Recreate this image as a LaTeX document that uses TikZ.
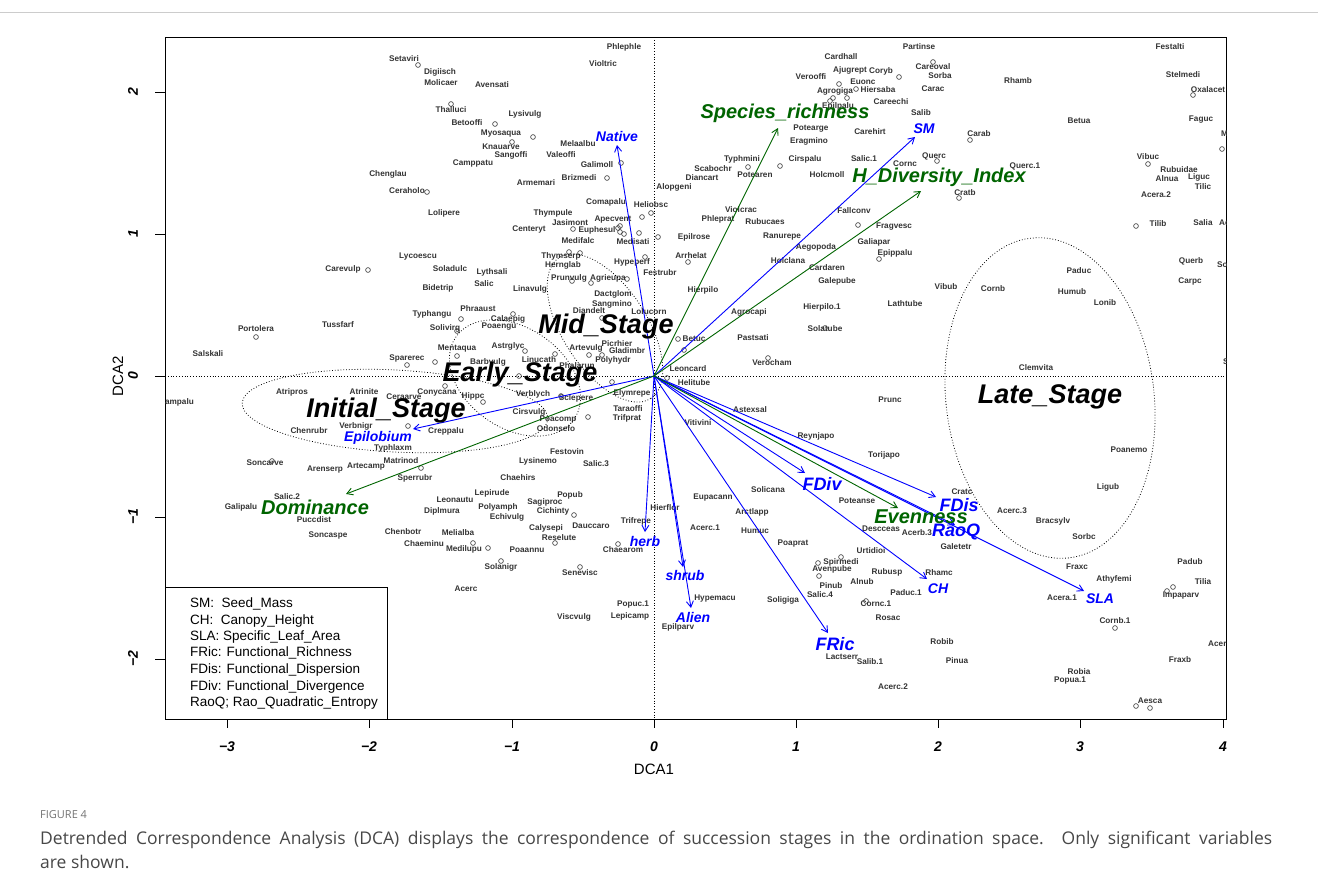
\documentclass[tikz,border=0pt]{standalone}
\usepackage{fontspec}
\setmainfont{Liberation Sans}
\newfontfamily\capfont{Open Sans}
\usepackage{tikz}
\usetikzlibrary{arrows.meta}
\definecolor{rblue}{RGB}{0,0,255}
\definecolor{rgreen}{RGB}{0,100,0}
\tikzset{
	sp/.style={font=\fontsize{8.2}{9}\selectfont\bfseries, text=black!80, inner sep=0pt},
	vec/.style={line width=0.9pt, -{Straight Barb[length=6pt,width=7pt]}},
	stage/.style={font=\fontsize{27}{30}\selectfont\bfseries\itshape, inner sep=0pt},
	bvar/.style={font=\fontsize{14}{16}\selectfont\bfseries\itshape, text=rblue, inner sep=0pt},
	bbig/.style={font=\fontsize{18}{20}\selectfont\bfseries\itshape, text=rblue, inner sep=0pt},
	gvar/.style={font=\fontsize{20}{22}\selectfont\bfseries\itshape, text=rgreen, inner sep=0pt},
	tick/.style={font=\fontsize{14}{16}\selectfont\bfseries\itshape, inner sep=0pt},
	stagering/.style={dotted, line width=0.8pt}
}
\begin{document}
\begin{tikzpicture}[x=1pt,y=-1pt]
	\useasboundingbox (0,0) rectangle (1318,886);
	\draw[black!20] (0,12) -- (1318,12);

	% frame, axes and ticks
	\draw[line width=0.9pt] (165,37) rectangle (1226,719);
	\draw[dotted, line width=0.8pt] (165,376) -- (1226,376);
	\draw[dotted, line width=0.8pt] (654,37) -- (654,719);
	\foreach \x/\t [count=\i] in {227/−3,369/−2,512/−1,654/0,796/1,938/2,1080/3,1223/4}{
		\draw[line width=0.9pt] (\x,719) -- (\x,728);
		\node[tick] (xt\i) at (\x,747) {\t};
	}
	\foreach \y/\t [count=\i] in {92/2,234/1,376/0,517/−1,659/−2}{
		\draw[line width=0.9pt] (165,\y) -- (155,\y);
		\node[tick, rotate=90] (yt\i) at (133,\y) {\t};
	}
	\node[font=\fontsize{15}{17}\selectfont] (xlab) at (654,769) {DCA1};
	\node[font=\fontsize{15}{17}\selectfont, rotate=90] (ylab) at (118,376) {DCA2};

	\begin{scope}
	\clip (165,37) rectangle (1226,719);
	% sites
	\foreach \x/\y in {418/65,451/104,495/124,533/137,512/142,621/163,607/178,427/192,368/270,
		651/213,642/217,620/226,618/228,620/232,624/234,639/233,573/229,658/237,569/252,580/253,
		645/257,688/262,572/281,591/283,627/279,933/62,899/77,839/84,833/98,830/101,847/98,856/89,
		748/167,780/166,937/161,959/198,970/140,858/225,879/259,1193/95,1222/149,1148/164,1136/226,
		825/328,768/358,841/557,818/563,819/576,866/601,1167/591,1173/587,1115/628,1136/706,1150/708,
		473/543,488/548,555/543,618/544,501/561,580/567,461/319,513/314,457/331,457/356,435/362,
		525/351,555/354,589/355,602/355,602/318,678/339,684/350,667/378,612/382,519/376,445/386,
		483/402,561/396,588/417,574/515,256/337,407/365,408/426,272/461,421/468}
		\draw[black!80, line width=0.6pt] (\x,\y) circle[radius=2.4pt];

	% species, upper left
	\foreach \x/\y/\t [count=\i] in {404/59/Setaviri,440/72/Digiisch,441/83/Molicaer,492/85/Avensati,
		624/47/Phlephle,603/64/Violtric,451/110/Thalluci,525/114/Lysivulg,467/123/Betooffi,
		501/134/Myosaqua,501/147/Knauarve,511/155/Sangoffi,473/163/Camppatu,578/144/Melaalbu,
		561/155/Valeoffi,597/165/Galimoll,579/178/Brizmedi,536/183/Armemari,388/174/Chenglau,
		407/191/Ceraholo,444/213/Lolipere,418/257/Lycoescu,343/269/Carevulp,438/288/Bidetrip,
		450/269/Soladulc,492/272/Lythsali,484/284/Salic,530/289/Linavulg,606/202/Comapalu,
		651/205/Heliobsc,674/187/Alopgeni,553/213/Thympule,613/220/Apecvent,570/223/Jasimont,
		597/230/Euphesul,529/229/Centeryt,578/241/Medifalc,633/242/Medisati,694/237/Epilrose,
		561/256/Thymserp,563/265/Hernglab,632/262/Hypeperf,660/273/Festrubr,691/256/Arrhelat,
		569/278/Prunvulg,608/278/Agrieupa}
		\node[sp] (a\i) at (\x,\y) {\t};

	% species, upper right
	\foreach \x/\y/\t [count=\i] in {841/57/Cardhall,919/47/Partinse,1170/47/Festalti,811/77/Verooffi,
		850/70/Ajugrept,881/71/Coryb,933/67/Careoval,940/76/Sorba,863/82/Euonc,835/91/Agrogiga,
		878/90/Hiersaba,933/89/Carac,838/106/Epilpalu,891/102/Careechi,921/113/Salib,
		811/129/Potearge,870/132/Carehirt,809/141/Eragmino,742/159/Typhmini,713/169/Scabochr,
		702/178/Diancart,755/175/Potearen,805/159/Cirspalu,864/159/Salic.1,827/175/Holcmoll,
		905/164/Cornc,934/156/Querc,965/193/Cratb,979/134/Carab,741/210/Violcrac,718/219/Phleprat,
		765/222/Rubucaes,854/211/Fallconv,894/227/Fragvesc,782/237/Ranurepe,816/247/Aegopoda,
		874/242/Galiapar,895/253/Epippalu,788/261/Holclana,827/268/Cardaren,837/281/Galepube,
		946/287/Vibub,1018/81/Rhamb,1079/121/Betua,1183/75/Stelmedi,1208/90/Oxalacet,
		1201/120/Faguc,1025/166/Querc.1,1148/157/Vibuc,1179/170/Rubuidae,1167/179/Alnua,
		1199/177/Liguc,1203/187/Tilic,1156/195/Acera.2,1158/224/Tilib,1203/223/Salia,
		1191/261/Querb,1079/271/Paduc,1190/281/Carpc,993/289/Cornb}
		\node[sp] (b\i) at (\x,\y) {\t};

	% species, lower right
	\foreach \x/\y/\t [count=\i] in {1072/292/Humub,1105/303/Lonib,1036/368/Clemvita,1129/450/Poanemo,
		1108/487/Ligub,1012/511/Acerc.3,962/492/Cratc,1053/521/Bracsylv,1084/537/Sorbc,
		703/290/Hierpilo,822/307/Hierpilo.1,905/304/Lathtube,749/312/Agrocapi,825/329/Solatube,
		753/338/Pastsati,694/339/Betuc,772/363/Verocham,688/369/Leoncard,694/383/Helitube,
		890/400/Prunc,750/410/Astexsal,698/423/Vitivini,816/436/Reynjapo,884/455/Torijapo,
		768/490/Solicana,713/498/Eupacann,857/501/Poteanse,752/512/Arctlapp,705/528/Acerc.1,
		755/531/Humuc,881/529/Descceas,917/533/Acerb.3,956/547/Galetetr,793/544/Poaprat,
		871/551/Urtidioi,841/562/Spirmedi,832/569/Avenpube,887/572/Rubusp,939/573/Rhamc,
		862/582/Alnub,831/586/Pinub,820/595/Salic.4,906/593/Paduc.1,783/600/Soligiga,
		715/599/Hypemacu,876/604/Cornc.1,888/618/Rosac,942/642/Robib,842/657/Lactserr,
		870/662/Salib.1,957/661/Pinua,893/687/Acerc.2,1077/567/Fraxc,1114/579/Athyfemi,
		1062/598/Acera.1,1190/562/Padub,1203/582/Tilia,1181/596/Impaparv,1115/621/Cornb.1,
		1180/660/Fraxb,1079/672/Robia,1070/681/Popua.1,1150/701/Aesca}
		\node[sp] (c\i) at (\x,\y) {\t};

	% species, lower left
	\foreach \x/\y/\t [count=\i] in {507/517/Echivulg,636/521/Trifrepe,546/528/Calysepi,591/526/Dauccaro,
		458/533/Melialba,424/544/Chaeminu,464/549/Medilupu,559/538/Reselute,527/550/Poaannu,
		623/550/Chaearom,501/567/Solanigr,580/573/Senevisc,466/589/Acerc,633/605/Popuc.1,
		630/616/Lepicamp,574/617/Viscvulg,678/627/Epilparv,665/508/Hierflor,613/294/Dactglom,
		612/304/Sangmino,589/311/Diandelt,649/312/Lolucorn,478/309/Phraaust,432/314/Typhangu,
		508/319/Calaepig,499/327/Poaengu,445/328/Solivirg,457/349/Mentaqua,508/346/Astrglyc,
		488/362/Barbvulg,539/360/Linucath,586/348/Artevulg,617/344/Picrhier,627/351/Gladimbr,
		613/360/Polyhydr,577/366/Phalarun,437/392/Conycana,473/396/Hippc,533/394/Verblych,
		576/398/Sclepere,632/393/Elymrepe,628/409/Taraoffi,627/418/Trifprat,529/412/Cirsvulg,
		558/420/Poacomp,556/429/Odonsefo,446/431/Creppalu,567/452/Festovin,538/461/Lysinemo,
		596/464/Salic.3,518/478/Chaehirs,492/493/Lepirude,570/495/Popub,455/500/Leonautu,
		545/502/Sagiproc,498/507/Polyamph,442/511/Diplmura,553/511/Cichinty,403/532/Chenbotr,
		256/329/Portolera,338/325/Tussfarf,208/354/Salskali,407/358/Sparerec,292/392/Atripros,
		364/392/Atrinite,404/397/Ceraarve,309/431/Chenrubr,356/426/Verbnigr,393/448/Typhlaxm,
		265/463/Soncarve,325/470/Arenserp,366/467/Artecamp,401/461/Matrinod,415/478/Sperrubr,
		287/497/Salic.2,241/507/Galipalu,314/520/Puccdist,328/535/Soncaspe}
		\node[sp] (d\i) at (\x,\y) {\t};
	\node[sp, anchor=east] (e1) at (194,402) {ampalu};
	\foreach \x/\y/\t [count=\i] in {1221/134/M,1219/223/Ac,1217/265/So,1223/362/S,1208/644/Acer}
		\node[sp, anchor=west] (f\i) at (\x,\y) {\t};

	% stage envelopes
	\draw[stagering, rotate around={-3:(395,411)}] (395,411) ellipse[x radius=153pt, y radius=41pt];
	\draw[stagering, rotate around={-35:(515,378)}] (515,378) ellipse[x radius=72pt, y radius=50pt];
	\draw[stagering, rotate around={-57:(605,328)}] (605,328) ellipse[x radius=84pt, y radius=42pt];
	\draw[stagering, rotate around={7:(1050,398)}] (1050,398) ellipse[x radius=104pt, y radius=161pt];
	\end{scope}

	% fitted vectors
	\coordinate (O) at (654,376);
	\foreach \n/\x/\y in {native/617/145,sm/915/137,epil/413/429,herb/645/532,shrub/683/567,
		alien/691/608,fric/828/633,ch/927/579,fdiv/805/473,fdis/936/497,raoq/955/525,sla/1084/591}{
		\coordinate (\n) at (\x,\y);
		\draw[vec, rblue] (O) -- (\n);
	}
	\foreach \n/\x/\y in {rich/778/128,hdiv/921/191,domi/346/494,even/898/508}{
		\coordinate (\n) at (\x,\y);
		\draw[vec, rgreen] (O) -- (\n);
	}

	\node[bvar] (lnative) at (617,136) {Native};
	\node[bvar] (lsm) at (924,129) {SM};
	\node[bvar] (lepil) at (378,438) {Epilobium};
	\node[bvar] (lherb) at (645,541) {herb};
	\node[bvar] (lshrub) at (685,575) {shrub};
	\node[bvar] (lalien) at (693,617) {Alien};
	\node[bvar] (lch) at (938,589) {CH};
	\node[bvar] (lsla) at (1100,599) {SLA};
	\node[bbig] (lfric) at (835,644) {FRic};
	\node[bbig] (lfdiv) at (822,484) {FDiv};
	\node[bbig] (lfdis) at (959,505) {FDis};
	\node[bbig] (lraoq) at (956,532) {RaoQ};
	\node[gvar] (lrich) at (785,113) {Species\_richness};
	\node[gvar] (lhdiv) at (939,177) {H\_Diversity\_Index};
	\node[gvar] (ldomi) at (315,507) {Dominance};
	\node[gvar] (leven) at (921,517) {Evenness};

	\node[stage] (initial) at (386,411) {Initial\_Stage};
	\node[stage] (early) at (520,375) {Early\_Stage};
	\node[stage] (mid) at (606,327) {Mid\_Stage};
	\node[stage] (late) at (1050,397) {Late\_Stage};

	% legend
	\draw[fill=white, line width=0.9pt] (165,587) rectangle (387,719);
	\foreach \y/\t [count=\i] in {604/{SM:\ \ Seed\_Mass},621/{CH:\ \ Canopy\_Height},
		637/{SLA: Specific\_Leaf\_Area},653/{FRic: Functional\_Richness},
		670/{FDis: Functional\_Dispersion},687/{FDiv: Functional\_Divergence},
		703/{RaoQ; Rao\_Quadratic\_Entropy}}
		\node[anchor=west, inner sep=0pt, font=\fontsize{13.5}{15}\selectfont] (leg\i) at (190,\y) {\t};

	% caption
	\node[anchor=west, inner sep=0pt, text=black!55, font=\capfont\fontsize{11}{13}\selectfont] (fig) at (40,815) {FIGURE 4};
	\node[anchor=west, inner sep=0pt, text=black!72, font=\capfont\fontsize{17.5}{20}\selectfont] (cap1) at (40,840)
		{\makebox[1232pt][s]{Detrended Correspondence Analysis (DCA) displays the correspondence of succession stages in the ordination space. Only significant variables}};
	\node[anchor=west, inner sep=0pt, text=black!72, font=\capfont\fontsize{17.5}{20}\selectfont] (cap2) at (40,862) {are shown.};
\end{tikzpicture}
\end{document}
